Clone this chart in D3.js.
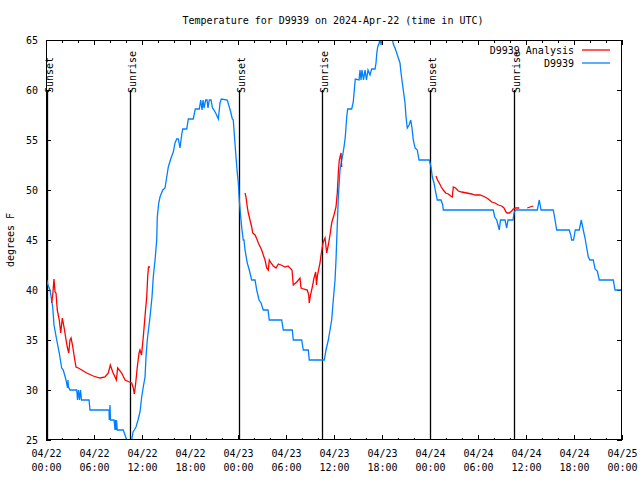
<!DOCTYPE html>
<html><head><meta charset="utf-8">
<script src="https://cdn.jsdelivr.net/npm/d3@7"></script>
<style>
body{margin:0;background:#fff;}
text{font-family:"DejaVu Sans Mono",monospace;font-size:10px;fill:#000;}
</style></head>
<body><svg id="c" width="640" height="480"></svg>
<script>
// ---- data (hours since 2024-04-22 00:00 UTC, degrees F) ----
const obsHours = [0.09,0.25,0.5,0.84,1.0,1.34,1.66,1.96,2.16,2.5,2.69,2.75,2.81,3.0,3.84,3.94,4.06,4.19,4.31,4.44,5.38,5.5,7.88,7.91,8.0,8.06,8.5,8.63,8.69,8.75,8.81,8.91,9.66,9.88,10.09,10.25,10.5,10.71,10.88,11.04,11.25,11.5,11.75,11.96,12.16,12.38,12.5,12.66,13.0,13.25,13.41,13.63,13.84,13.91,14.09,14.25,14.59,14.88,15.09,15.29,15.59,15.91,16.13,16.34,16.54,16.75,16.96,17.09,17.59,17.79,18.41,18.66,19.16,19.34,19.5,19.63,19.75,19.96,20.13,20.25,20.41,20.63,20.81,21.0,21.21,21.54,21.75,21.91,22.66,22.91,23.09,23.29,23.41,23.59,23.75,23.91,24.04,24.16,24.34,24.5,24.66,24.75,24.88,25.16,25.41,25.71,26.13,26.34,26.63,26.88,27.16,27.75,27.91,29.46,29.66,30.79,30.91,31.96,32.16,32.79,32.91,34.79,35.0,35.29,35.5,35.71,35.91,36.13,36.25,36.34,36.54,36.75,37.09,37.25,37.41,37.5,37.59,37.71,38.21,38.41,38.54,38.66,39.13,39.25,39.38,39.5,39.69,39.88,40.06,40.25,40.5,40.71,41.13,41.25,41.34,41.46,41.66,41.75,41.88,42.0,42.13,43.21,43.41,43.63,43.84,44.04,44.25,44.38,44.54,44.71,44.88,45.0,45.16,45.38,45.59,45.75,45.91,46.13,46.41,46.63,47.91,48.13,48.29,48.5,48.66,48.91,49.38,49.59,49.66,55.91,56.09,56.34,56.5,56.66,56.81,57.38,57.59,57.75,58.38,58.5,58.71,61.41,61.66,61.88,63.41,63.59,63.84,65.41,65.59,65.71,65.94,66.16,66.66,66.91,67.16,67.38,67.59,67.79,68.0,68.41,68.63,68.91,69.16,70.91,71.13,72.0];
const obsTemps = [41,40.5,40,38.3,36.5,35,33.7,32.2,32,31,30.2,31,30.3,30,30,29,30,29,30,29,29,28,28,27,28.5,27,27,26,27,26,27,26,26,25.5,25,24.5,24.5,25,25.8,26,26.3,27,27.8,29.3,30.3,31.3,33.3,35,37.3,39.3,41.3,43,45,47.3,48.7,49.3,50,50.2,51.3,52.3,53.1,53.8,54.7,55.1,55.1,54.2,55.5,56.1,56.1,57.1,57.1,58.1,58.1,59,58,59,58.2,59,59,58.2,59,59,58.2,58,57.7,57.1,58.7,59.1,59,58.3,57.8,57.1,57,55,53.3,51.7,50.7,49,47.3,46,45,45,44,42.7,42,41,41,40,39,38.7,38,38,37,37,36,36,35,35,34,34,33,33,34,35,36,37,39,41,43,45,49.3,52,53.5,54.3,55.3,56.3,57.3,58.1,58.1,58.8,60,61.1,61,62,61,62,61,62,61,62,61.5,62.1,62.1,62.7,63.6,64.3,64.7,65.3,64.5,65.3,65.6,65.6,64.6,64.2,63.7,63.2,62.7,61.7,60.7,59.7,58.7,57.3,56.2,56.5,57,56.2,55,54.2,54,53,53,52.3,51.3,50.7,50,49,49,48.5,48,48,47.3,47,46.5,46,47,47,46.2,47,47,47.7,48,48,49,48,48,47.2,46,46,45.5,45,45,46,46,47,46,45.2,44.2,43.3,43,43,42.1,41.9,41,41,40,40];

// analysis series; null marks a gap
const anaHours = [0.71,0.84,1.0,1.13,1.25,1.41,1.66,1.84,2.04,2.25,2.41,2.66,2.84,3.0,3.13,3.31,3.54,3.75,4.04,4.46,5.09,5.91,6.75,7.38,7.79,8.04,8.34,8.63,8.79,8.96,9.46,9.88,10.41,10.71,10.91,11.04,11.19,11.41,11.63,11.75,11.94,12.16,12.41,12.59,12.71,12.81,13.0,
  null,
  24.88,25.0,25.16,25.29,25.5,25.71,25.84,26.13,26.41,26.54,26.96,27.16,27.38,27.59,27.79,27.91,28.13,28.41,28.75,29.04,29.38,29.88,30.25,30.5,30.75,30.91,31.34,31.75,31.88,32.16,32.66,32.84,32.91,33.06,33.29,33.5,33.71,33.81,33.94,34.25,34.38,34.54,34.66,34.88,35.09,35.29,35.5,35.71,36.0,36.25,36.41,36.54,36.66,36.88,36.96,
  null,
  48.75,48.94,49.16,49.41,49.66,49.96,50.29,50.59,50.79,50.91,51.19,51.54,51.96,52.59,53.21,53.63,54.25,54.88,55.29,55.71,56.13,56.54,56.96,57.25,57.5,57.66,57.91,58.21,58.41,58.71,59.16,
  null,
  60.16,60.5,60.91];
const anaTemps = [38.7,39.5,41.1,39.8,39.7,38,37,35.7,37.2,36.3,35.5,34.3,33.7,35,35.2,34.5,33.3,32.3,32.2,32,31.7,31.4,31.2,31.3,31.7,32.5,31.8,31.3,31,32.2,31.7,31,30.8,30.7,30.2,29.6,30.5,32.3,33.7,34,33.5,35.3,37.7,39.3,41.3,42.3,42.3,
  null,
  49.7,49.3,48.3,47.7,47,46.3,45.7,45.5,45,44.7,44,43.5,43,42.2,42,43,42.7,42.4,42.2,42.6,42.5,42.3,42.4,42.2,42,40.5,40.8,41.2,40.2,40.1,40,39.5,38.7,39.5,40.3,41.2,41.8,40.5,41.5,42.7,43.5,44.3,44.8,45.2,43.7,44.5,45.5,46.7,47.5,48.3,49.7,51.7,53,53.7,52.3,
  null,
  51.4,51,50.7,50.3,50,49.7,49.6,49.4,49.3,50.3,50.2,49.9,49.8,49.7,49.6,49.5,49.5,49.3,49.1,48.8,48.7,48.5,48.4,48.2,47.8,47.7,47.7,47.9,48.1,48.2,48.2,
  null,
  48.2,48.3,48.4];

const sunEvents = ["Sunset","Sunrise","Sunset","Sunrise","Sunset","Sunrise"];
const sunHours = [0.07,10.55,24.08,34.52,48.05,58.45];
const yTicks = [25,30,35,40,45,50,55,60,65];
const seriesNames = ["D9939 Analysis","D9939"];
const seriesColors = ["#ff0000","#0080ff"];
const titleText = "Temperature for D9939 on 2024-Apr-22 (time in UTC)";
const yLabel = "degrees F";

// ---- chart ----
const t0 = Date.UTC(2024,3,22,0,0);
const toDate = h => new Date(t0 + h*3600000);
const L=46, R=622, T=40, B=440;
const svg = d3.select("#c");
const x = d3.scaleUtc().domain([toDate(0), toDate(72)]).range([L,R]);
const y = d3.scaleLinear().domain([25,65]).range([B,T]);

svg.append("defs").append("clipPath").attr("id","clip")
  .append("rect").attr("x",L).attr("y",T).attr("width",R-L).attr("height",B-T);

// axes
const minorTicks = d3.utcHour.every(2).range(toDate(0), toDate(72.01));
const majorTicks = d3.utcHour.every(6).range(toDate(0), toDate(72.01));
const fmtD = d3.utcFormat("%m/%d"), fmtT = d3.utcFormat("%H:%M");

function clean(g){ g.select(".domain").remove(); g.selectAll("line").attr("stroke","#000").attr("shape-rendering","crispEdges"); }

svg.append("g").attr("transform",`translate(0,${B})`)
  .call(d3.axisBottom(x).tickValues(minorTicks).tickSize(-2.5).tickFormat("")).call(clean);
svg.append("g").attr("transform",`translate(0,${T})`)
  .call(d3.axisTop(x).tickValues(minorTicks).tickSize(-2.5).tickFormat("")).call(clean);
svg.append("g").attr("transform",`translate(0,${T})`)
  .call(d3.axisTop(x).tickValues(majorTicks).tickSize(-5).tickFormat("")).call(clean);
const xb = svg.append("g").attr("transform",`translate(0,${B})`)
  .call(d3.axisBottom(x).tickValues(majorTicks).tickSize(-5).tickPadding(8).tickFormat(d=>d)).call(clean);
xb.selectAll("text").each(function(d){
  const t = d3.select(this).text(null).attr("font-family",null).attr("font-size",null).attr("dy",null).attr("y",null);
  t.append("tspan").attr("x",0).attr("y",13).attr("dy","0.35em").text(fmtD(d));
  t.append("tspan").attr("x",0).attr("y",27).attr("dy","0.35em").text(fmtT(d));
});
svg.append("g").attr("transform",`translate(${L},0)`)
  .call(d3.axisLeft(y).tickValues(yTicks).tickSize(-5).tickPadding(8)).call(clean)
  .selectAll("text").attr("font-family",null).attr("font-size",null);
svg.append("g").attr("transform",`translate(${R},0)`)
  .call(d3.axisRight(y).tickValues(yTicks).tickSize(-5).tickFormat("")).call(clean);

// sunrise / sunset markers
const sg = svg.append("g");
sunHours.forEach((h,i)=>{
  const xx = Math.round(x(toDate(h)))+0.5;
  sg.append("line").attr("x1",xx).attr("x2",xx).attr("y1",y(60)).attr("y2",y(25))
    .attr("stroke","#000").attr("stroke-width",1.3);
  sg.append("text").attr("transform",`translate(${xx},93) rotate(-90)`)
    .attr("dy","0.5em").attr("text-anchor","start").text(sunEvents[i]);
});

// series
const line = d3.line().defined(d=>d[0]!==null && d[1]!==null)
  .x(d=>x(toDate(d[0]))).y(d=>y(d[1]));
const obs = obsHours.map((h,i)=>[h,obsTemps[i]]);
const ana = anaHours.map((h,i)=>[h,anaTemps[i]]);
const pg = svg.append("g").attr("clip-path","url(#clip)");
pg.append("path").datum(obs).attr("d",line).attr("fill","none").attr("stroke",seriesColors[1]).attr("stroke-width",1.3);
pg.append("path").datum(ana).attr("d",line).attr("fill","none").attr("stroke",seriesColors[0]).attr("stroke-width",1.3);

// frame
svg.append("rect").attr("x",L+0.5).attr("y",T+0.5).attr("width",R-L-1).attr("height",B-T-1)
  .attr("fill","none").attr("stroke","#000").attr("stroke-width",1).attr("shape-rendering","crispEdges");

// legend
seriesNames.forEach((n,i)=>{
  const yy = 50 + i*13;
  svg.append("text").attr("x",574).attr("y",yy).attr("dy","0.35em").attr("text-anchor","end").text(n);
  svg.append("line").attr("x1",582).attr("x2",610).attr("y1",yy).attr("y2",yy)
    .attr("stroke",seriesColors[i]).attr("stroke-width",1.3);
});

// title & y label
svg.append("text").attr("x",333).attr("y",20).attr("dy","0.35em").attr("text-anchor","middle").text(titleText);
svg.append("text").attr("transform","translate(10,240) rotate(-90)").attr("dy","0.35em").attr("text-anchor","middle").text(yLabel);
</script></body></html>
